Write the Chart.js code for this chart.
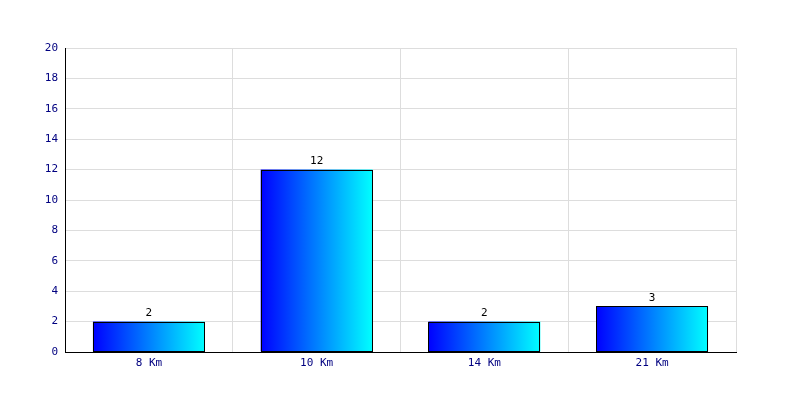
<!DOCTYPE html>
<html>
<head>
<meta charset="utf-8">
<script src="https://cdn.jsdelivr.net/npm/chart.js@4/dist/chart.umd.min.js"></script>
<style>
  html, body { margin: 0; padding: 0; background: #fff; }
  #wrap { width: 800px; height: 400px; }
</style>
</head>
<body>
<div id="wrap"><canvas id="distChart" width="800" height="400"></canvas></div>
<script>
// Data
const categories = ['8 Km', '10 Km', '14 Km', '21 Km'];
const counts = [2, 12, 2, 3];
const yTicks = [0, 2, 4, 6, 8, 10, 12, 14, 16, 18, 20];

const BAR_FRACTION = 0.667;
const monoFont = { family: 'DejaVu Sans Mono', size: 11 };

// horizontal blue -> cyan gradient for each bar
function barGradient(ctx) {
    const chart = ctx.chart;
    const xScale = chart.scales.x;
    if (!xScale || !chart.chartArea) return '#0000ff';
    const cx = xScale.getPixelForValue(ctx.dataIndex);
    const half = (xScale.width / categories.length) * BAR_FRACTION / 2;
    const g = chart.ctx.createLinearGradient(cx - half, 0, cx + half, 0);
    g.addColorStop(0, '#0000ff');
    g.addColorStop(1, '#00ffff');
    return g;
}

// crisp black outline and value label for each bar
const barDecor = {
    id: 'barDecor',
    afterDatasetsDraw(chart) {
        const c = chart.ctx;
        const meta = chart.getDatasetMeta(0);
        c.save();
        c.strokeStyle = '#000';
        c.lineWidth = 1;
        meta.data.forEach(bar => {
            const x0 = Math.round(bar.x - bar.width / 2) + 0.5;
            const x1 = Math.round(bar.x + bar.width / 2) - 0.5;
            const y0 = Math.round(bar.y) + 0.5;
            const y1 = Math.round(bar.base) - 0.5;
            c.strokeRect(x0, y0, x1 - x0, y1 - y0);
        });
        c.font = '11px "DejaVu Sans Mono"';
        c.fillStyle = '#000';
        c.textAlign = 'center';
        c.textBaseline = 'bottom';
        meta.data.forEach((bar, i) => {
            c.fillText(String(counts[i]), bar.x, bar.y - 3);
        });
        c.restore();
    }
};

new Chart(document.getElementById('distChart'), {
    type: 'bar',
    data: {
        labels: categories,
        datasets: [{
            data: counts,
            backgroundColor: barGradient,
            borderWidth: 0,
            barPercentage: BAR_FRACTION,
            categoryPercentage: 1
        }]
    },
    options: {
        responsive: false,
        animation: false,
        layout: { padding: { top: 48, right: 64, left: 0, bottom: 0 } },
        plugins: {
            legend: { display: false },
            tooltip: { enabled: false }
        },
        scales: {
            x: {
                grid: { color: '#dddddd', offset: true, drawTicks: false },
                border: { color: '#000', width: 1 },
                ticks: { color: '#000080', font: monoFont, padding: 5 },
                afterFit(scale) { scale.height = 48; }
            },
            y: {
                min: 0,
                max: 20,
                afterBuildTicks(scale) { scale.ticks = yTicks.map(v => ({ value: v })); },
                grid: { color: '#dddddd', drawTicks: false },
                border: { color: '#000', width: 1 },
                ticks: { color: '#000080', font: monoFont, padding: 7 },
                afterFit(scale) { scale.width = 65; }
            }
        }
    },
    plugins: [barDecor]
});
</script>
</body>
</html>
